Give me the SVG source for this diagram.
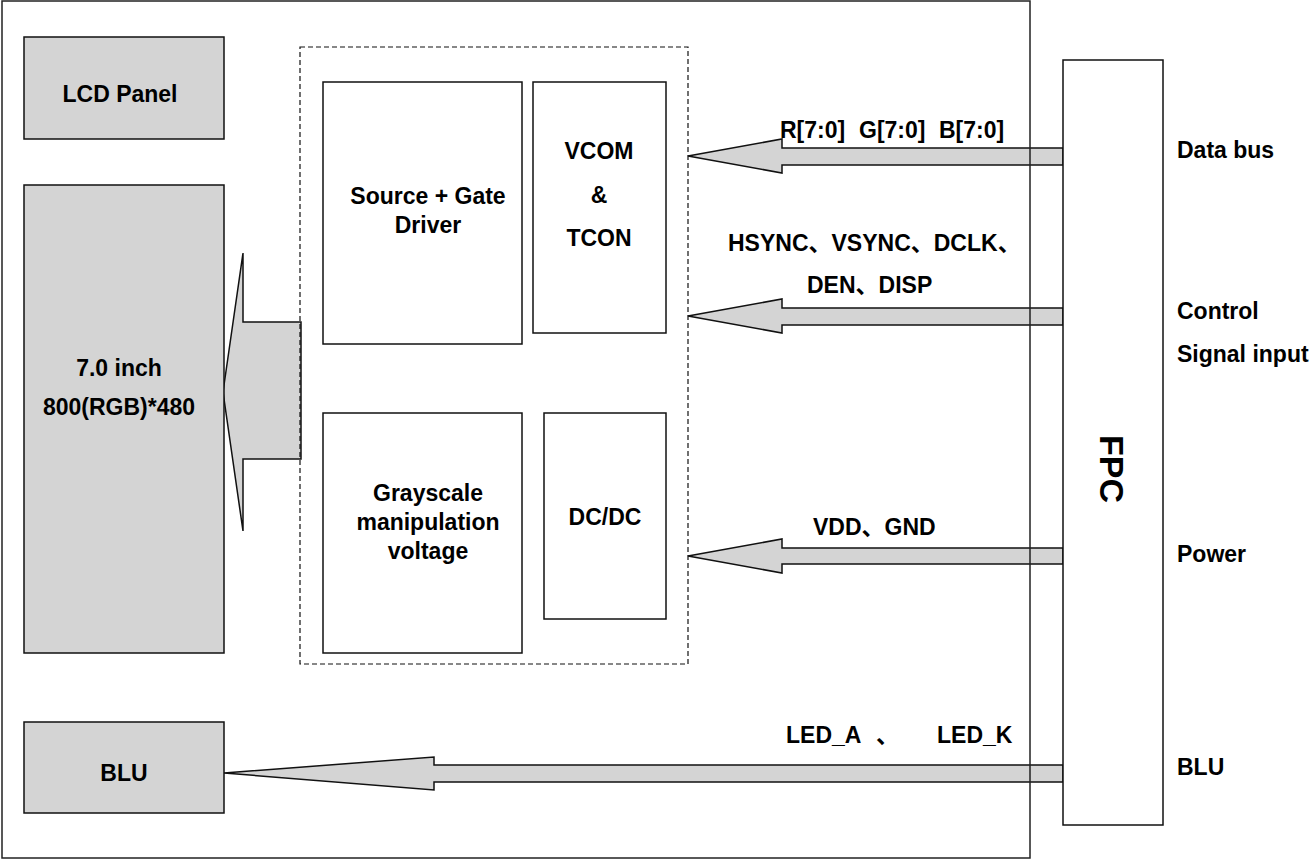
<svg xmlns="http://www.w3.org/2000/svg" width="1314" height="860" viewBox="0 0 1314 860">
<style>
.t{font-family:"Liberation Sans",Arial,"Noto Sans CJK SC",sans-serif;font-weight:bold;font-size:23px;fill:#000}
.c{text-anchor:middle}
.g{fill:#d4d4d4;stroke:#111;stroke-width:1.5}
.w{fill:#fff;stroke:#111;stroke-width:1.5}
.a{fill:#d4d4d4;stroke:#111;stroke-width:1.5;stroke-linejoin:miter}
</style>
<rect x="0" y="0" width="1314" height="860" fill="#fff"/>
<g id="connectors">
<polygon class="a" points="223,392 243,253 243,322 301,322 301,459 243,459 243,531"/>
<polygon class="a" points="688,156 782,139 782,148 1063,148 1063,165 782,165 782,173"/>
<polygon class="a" points="688,316 782,299 782,308 1063,308 1063,325 782,325 782,333"/>
<polygon class="a" points="688,556 782,539 782,548 1063,548 1063,564 782,564 782,573"/>
<polygon class="a" points="224,773 434,757 434,765 1063,765 1063,782 434,782 434,790"/>
</g>
<rect id="frame" x="2" y="1" width="1028" height="857" fill="none" stroke="#222" stroke-width="1.5"/>
<g id="lcd-panel"><rect class="g" x="24" y="37" width="200" height="102"/><text class="t c" x="120" y="102">LCD Panel</text></g>
<g id="panel"><rect class="g" x="24" y="185" width="200" height="468"/><text class="t c" x="119" y="376">7.0 inch</text><text class="t c" x="119" y="415">800(RGB)*480</text></g>
<g id="blu"><rect class="g" x="24" y="722" width="200" height="91"/><text class="t c" x="124" y="781">BLU</text></g>
<g id="driver-ic"><rect x="300" y="47" width="388" height="617" fill="none" stroke="#111" stroke-width="1.2" stroke-dasharray="5,3"/></g>
<g id="source-gate"><rect class="w" x="323" y="82" width="199" height="262"/><text class="t c" x="428" y="204">Source + Gate</text><text class="t c" x="428" y="233">Driver</text></g>
<g id="vcom-tcon"><rect class="w" x="533" y="82" width="133" height="251"/><text class="t c" x="599" y="159">VCOM</text><text class="t c" x="599" y="203">&amp;</text><text class="t c" x="599" y="246">TCON</text></g>
<g id="grayscale"><rect class="w" x="323" y="413" width="199" height="240"/><text class="t c" x="428" y="501">Grayscale</text><text class="t c" x="428" y="530">manipulation</text><text class="t c" x="428" y="559">voltage</text></g>
<g id="dcdc"><rect class="w" x="544" y="413" width="122" height="206"/><text class="t c" x="605" y="525">DC/DC</text></g>
<g id="fpc"><rect class="w" x="1063" y="60" width="100" height="765"/><text class="t c" transform="translate(1112,469) rotate(90)" x="0" y="12" style="font-size:34px">FPC</text></g>
<g id="labels">
<text class="t" y="138"><tspan x="780">R[7:0]</tspan><tspan x="859">G[7:0]</tspan><tspan x="939">B[7:0]</tspan></text>
<text class="t" x="728" y="251">HSYNC、VSYNC、DCLK、</text>
<text class="t" x="807" y="293">DEN、DISP</text>
<text class="t" x="813" y="535">VDD、GND</text>
<text class="t" y="743"><tspan x="786">LED_A</tspan><tspan x="876">、</tspan><tspan x="937">LED_K</tspan></text>
<text class="t" x="1177" y="158">Data bus</text>
<text class="t" x="1177" y="319">Control</text>
<text class="t" x="1177" y="362">Signal input</text>
<text class="t" x="1177" y="562">Power</text>
<text class="t" x="1177" y="775">BLU</text>
</g>
</svg>
